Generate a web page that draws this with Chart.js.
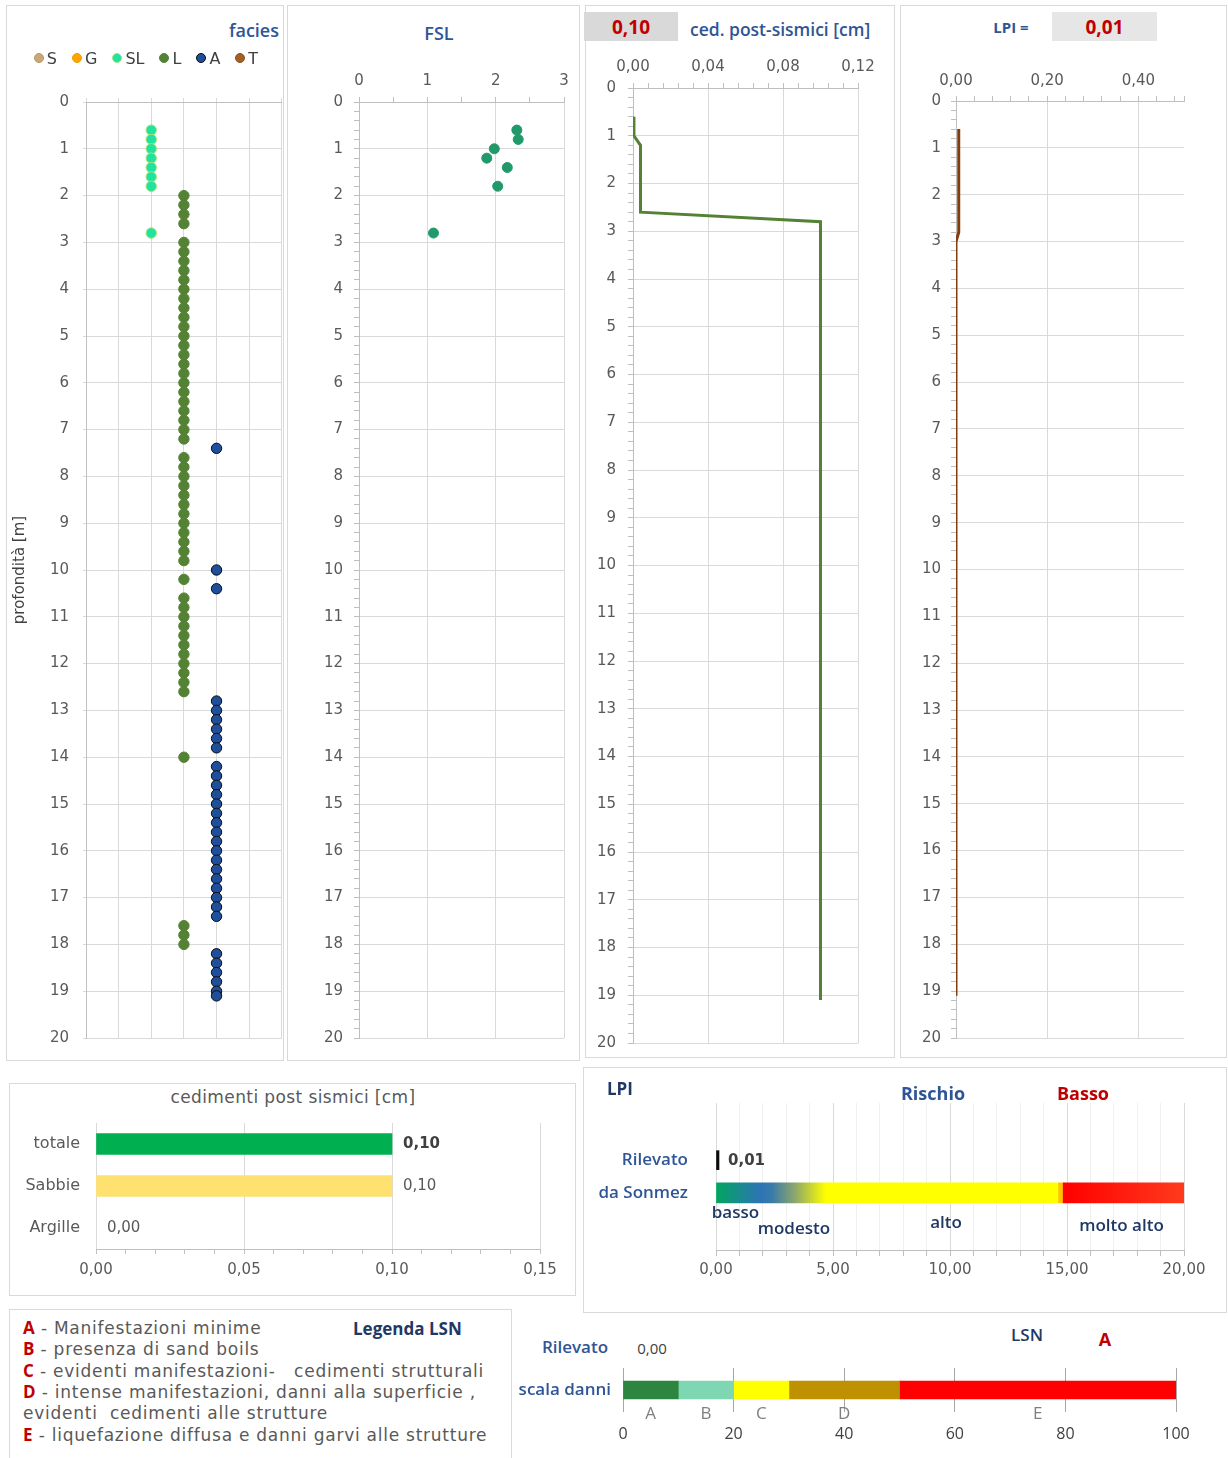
<!DOCTYPE html>
<html>
<head>
<meta charset="utf-8">
<script src="https://cdn.jsdelivr.net/npm/chart.js@4.4.1/dist/chart.umd.min.js"></script>
<style>
body { margin: 0; background: #fff; }
#page { position: relative; width: 1228px; height: 1458px; overflow: hidden; font-family: 'DejaVu Sans', sans-serif; }
.box { position: absolute; border: 1.5px solid #D9D9D9; box-sizing: border-box; }
canvas { position: absolute; }
.t { position: absolute; white-space: nowrap; line-height: 1; }
.hd { font-family: 'Open Sans', sans-serif; font-weight: 600; color: #2F5597; }
.val { position: absolute; font-family: 'Open Sans', sans-serif; font-weight: 700; color: #C00000; font-size: 19px;
       display: flex; align-items: center; justify-content: center; }
#legend { position: absolute; left: 0; width: 292px; top: 49px; display: flex; justify-content: center; gap: 15px;
          font-size: 16px; color: #404040; }
#legend span.dot { display: inline-block; width: 10px; height: 10px; border-radius: 50%; margin-right: 3px; vertical-align: 1px; box-sizing: border-box; }
.lg { position: absolute; left: 23px; font-size: 17px; letter-spacing: 0.75px; color: #595959; white-space: nowrap; transform: translateY(-50%); }
.lg b { font-family: 'Open Sans', sans-serif; font-weight: 700; color: #C00000; font-size: 17px; letter-spacing: 0; }
</style>
</head>
<body>
<div id="page">
  <div class="box" style="left:6px;top:5px;width:278px;height:1056px"></div>
  <div class="box" style="left:287px;top:5px;width:293px;height:1056px"></div>
  <div class="box" style="left:585px;top:5px;width:310px;height:1053px"></div>
  <div class="box" style="left:900px;top:5px;width:327px;height:1053px"></div>
  <div class="box" style="left:9px;top:1083px;width:567px;height:213px"></div>
  <div class="box" style="left:583px;top:1067px;width:644px;height:246px"></div>
  <div class="box" style="left:9px;top:1309px;width:503px;height:160px"></div>

  <canvas id="cFacies" width="282" height="980" style="left:6px;top:80px"></canvas>
  <canvas id="cFsl" width="292" height="1010" style="left:288px;top:50px"></canvas>
  <canvas id="cCed" width="308" height="1012" style="left:586px;top:45px"></canvas>
  <canvas id="cLpi" width="325" height="1002" style="left:901px;top:55px"></canvas>
  <canvas id="cBar" width="565" height="180" style="left:10px;top:1115px"></canvas>
  <canvas id="cRisk" width="642" height="200" style="left:584px;top:1095px"></canvas>
  <canvas id="cLsn" width="713" height="98" style="left:514px;top:1360px"></canvas>

  <div class="t hd" style="right:949px;top:21px;font-size:18px">facies</div>
  <div id="legend"></div>
  <div class="t hd" style="left:439px;top:24px;font-size:18px;transform:translateX(-50%)">FSL</div>
  <div class="val" id="cedBox" style="left:584px;top:12px;width:94px;height:29px;background:#D9D9D9"></div>
  <div class="t hd" style="left:690px;top:21px;font-size:17.5px">ced. post-sismici [cm]</div>
  <div class="t" style="left:1011px;top:20px;transform:translateX(-50%);font-family:'Open Sans',sans-serif;font-weight:700;font-size:15px;color:#2F5597">LPI =</div>
  <div class="val" id="lpiBox" style="left:1052px;top:12px;width:105px;height:29px;background:#E7E6E6"></div>

  <div class="t" style="left:293px;top:1089px;transform:translateX(-50%);font-size:17px;letter-spacing:0.4px;color:#595959">cedimenti post sismici [cm]</div>
  <div class="t" style="left:607px;top:1080px;font-family:'Open Sans',sans-serif;font-weight:700;font-size:17px;color:#1F3864">LPI</div>
  <div class="t" style="left:933px;top:1084px;transform:translateX(-50%);font-family:'Open Sans',sans-serif;font-weight:700;font-size:18px;color:#2F5597">Rischio</div>
  <div class="t" id="riskTxt" style="left:1083px;top:1084px;transform:translateX(-50%);font-family:'Open Sans',sans-serif;font-weight:700;font-size:18px;color:#C00000"></div>

  <div class="lg" style="top:1327px"><b>A</b> - Manifestazioni minime</div>
  <div class="lg" style="top:1348px"><b>B</b> - presenza di sand boils</div>
  <div class="lg" style="top:1370px"><b>C</b> - evidenti manifestazioni-&nbsp;&nbsp; cedimenti strutturali</div>
  <div class="lg" style="top:1391px"><b>D</b> - intense manifestazioni, danni alla superficie ,</div>
  <div class="lg" style="top:1413px">evidenti&nbsp; cedimenti alle strutture</div>
  <div class="lg" style="top:1434px"><b>E</b> - liquefazione diffusa e danni garvi alle strutture</div>
  <div class="t" style="left:353px;top:1320px;font-family:'Open Sans',sans-serif;font-weight:700;font-size:17px;color:#1F3864">Legenda LSN</div>

  <div class="t hd" style="left:575px;top:1338px;transform:translateX(-50%);font-size:17px">Rilevato</div>
  <div class="t" id="lsnVal" style="left:652px;top:1341px;transform:translateX(-50%);font-family:'Open Sans',sans-serif;font-size:15px;color:#404040"></div>
  <div class="t" style="left:1027px;top:1326px;transform:translateX(-50%);font-family:'Open Sans',sans-serif;font-weight:600;font-size:17px;color:#1F3864">LSN</div>
  <div class="t" id="lsnClass" style="left:1105px;top:1330px;transform:translateX(-50%);font-family:'Open Sans',sans-serif;font-weight:700;font-size:18px;color:#C00000"></div>
</div>

<script>
// facies: profondita' dei campioni [m]
const faciesNames = ["S", "G", "SL", "L", "A", "T"];
const depthS = [];
const depthG = [];
const depthSL = [0.6, 0.8, 1.0, 1.2, 1.4, 1.6, 1.8, 2.8];
const depthL = [2.0, 2.2, 2.4, 2.6, 3.0, 3.2, 3.4, 3.6, 3.8, 4.0, 4.2, 4.4, 4.6, 4.8, 5.0, 5.2, 5.4, 5.6, 5.8,
    6.0, 6.2, 6.4, 6.6, 6.8, 7.0, 7.2, 7.6, 7.8, 8.0, 8.2, 8.4, 8.6, 8.8, 9.0, 9.2, 9.4, 9.6, 9.8, 10.2,
    10.6, 10.8, 11.0, 11.2, 11.4, 11.6, 11.8, 12.0, 12.2, 12.4, 12.6, 14.0, 17.6, 17.8, 18.0];
const depthA = [7.4, 10.0, 10.4, 12.8, 13.0, 13.2, 13.4, 13.6, 13.8, 14.2, 14.4, 14.6, 14.8, 15.0, 15.2,
    15.4, 15.6, 15.8, 16.0, 16.2, 16.4, 16.6, 16.8, 17.0, 17.2, 17.4, 18.2, 18.4, 18.6, 18.8, 19.0, 19.1];
const depthT = [];

// FSL
const fslDepth = [0.6, 0.8, 1.0, 1.2, 1.4, 1.8, 2.8];
const fslValues = [2.31, 2.33, 1.98, 1.87, 2.17, 2.03, 1.09];

// cedimenti post-sismici cumulati [cm]
const cedDepth = [0.6, 1.0, 1.2, 2.6, 2.8, 19.1];
const cedValues = [0.000, 0.0005, 0.004, 0.004, 0.100, 0.100];

// LPI cumulato
const lpiDepth = [0.6, 2.8, 3.0, 19.1];
const lpiValues = [0.006, 0.006, 0.000, 0.000];

// riepilogo cedimenti
const cedCategories = ["totale", "Sabbie", "Argille"];
const cedTotals = [0.10, 0.10, 0.00];

// LPI rilevato e classi Sonmez
const lpiRilevato = 0.01;
const sonmezBounds = [0, 2, 5, 15, 20];
const sonmezNames = ["basso", "modesto", "alto", "molto alto"];
const rischio = "Basso";

// LSN
const lsnRilevato = 0.00;
const lsnClasses = ["A", "B", "C", "D", "E"];
const lsnWidths = [10, 10, 10, 20, 50];
const lsnClasse = "A";

const GRID = "#D9D9D9";
const AXIS = "#BFBFBF";
const NONE = "rgba(0,0,0,0)";

Chart.defaults.font.family = "'DejaVu Sans', sans-serif";
Chart.defaults.font.size = 15;
Chart.defaults.color = "#595959";
Chart.defaults.animation = false;
Chart.defaults.responsive = false;
Chart.defaults.plugins.legend.display = false;
Chart.defaults.plugins.tooltip.enabled = false;

function near(v, step) {
    const q = v / step;
    return Math.abs(q - Math.round(q)) < 1e-6;
}

function comma(v, d) {
    return v.toFixed(d).replace(".", ",");
}

function stepTicks(min, max, step) {
    const t = [];
    for (let i = 0; min + i * step <= max + 1e-9; i++) t.push({ value: +(min + i * step).toFixed(6) });
    if (t[t.length - 1].value < max - 1e-9) t.push({ value: max });
    return t;
}

// fixed axis size, so that the plot area lands where it is in the picture
function fit(prop, size) {
    return s => {
        s[prop] = size;
        s.paddingLeft = s.paddingRight = s.paddingTop = s.paddingBottom = 0;
    };
}

function depthScale(width, pad, minor) {
    return {
        type: "linear", position: "left", min: 0, max: 20, reverse: true,
        afterFit: fit("width", width),
        afterBuildTicks: s => { s.ticks = stepTicks(0, 20, minor ? 0.2 : 1); },
        ticks: { autoSkip: false, padding: pad, callback: v => near(v, 1) ? String(Math.round(v)) : "" },
        grid: {
            color: c => c.tick && near(c.tick.value, 1) ? GRID : NONE,
            tickColor: minor ? AXIS : GRID,
            tickLength: minor ? 5 : 3
        },
        border: { color: AXIS }
    };
}

function topScale(max, step, major, dec, height, pad) {
    return {
        type: "linear", position: "top", min: 0, max: max,
        afterFit: fit("height", height),
        afterBuildTicks: s => { s.ticks = stepTicks(0, max, step); },
        ticks: { autoSkip: false, maxRotation: 0, padding: pad, callback: v => near(v, major) ? comma(v, dec) : "" },
        grid: {
            color: c => c.tick && near(c.tick.value, major) ? GRID : NONE,
            tickColor: AXIS,
            tickLength: 5
        },
        border: { color: AXIS }
    };
}

// header values
document.getElementById("cedBox").textContent = comma(cedTotals[0], 2);
document.getElementById("lpiBox").textContent = comma(lpiRilevato, 2);
document.getElementById("riskTxt").textContent = rischio;
document.getElementById("lsnVal").textContent = comma(lsnRilevato, 2);
document.getElementById("lsnClass").textContent = lsnClasse;

// facies
const faciesDepths = [depthS, depthG, depthSL, depthL, depthA, depthT];
const faciesFill = ["#C9A77C", "#FFA500", "#1FE3A0", "#548235", "#1F4E9B", "#A0602A"];
const faciesLine = ["#B8955F", "#F29A00", "#A5E37A", "#548235", "#0D0D0D", "#8C5020"];

const legend = document.getElementById("legend");
faciesNames.forEach((n, i) => {
    const item = document.createElement("span");
    item.innerHTML = '<span class="dot" style="background:' + faciesFill[i] + ';border:1px solid ' + faciesLine[i] + '"></span>' + n;
    legend.appendChild(item);
});

new Chart(document.getElementById("cFacies"), {
    type: "scatter",
    data: {
        datasets: faciesNames.map((n, i) => ({
            label: n,
            data: faciesDepths[i].map(d => ({ x: i, y: d })),
            backgroundColor: faciesFill[i],
            borderColor: faciesLine[i],
            borderWidth: 1,
            pointRadius: 5.2
        }))
    },
    options: {
        devicePixelRatio: 1,
        layout: { padding: { left: 0, right: 2, top: 22, bottom: 22 } },
        scales: {
            x: {
                type: "linear", position: "top", min: 0, max: 6,
                afterFit: fit("height", 0),
                afterBuildTicks: s => { s.ticks = stepTicks(0, 6, 1); },
                ticks: { display: false },
                grid: { color: GRID, tickColor: GRID, tickLength: 4 },
                border: { color: AXIS }
            },
            y: Object.assign(depthScale(80, 14, false), {
                title: { display: true, text: "profondità [m]", color: "#404040", font: { size: 15 }, padding: { top: 5, bottom: 0 } }
            })
        }
    }
});

// FSL
new Chart(document.getElementById("cFsl"), {
    type: "scatter",
    data: {
        datasets: [{
            data: fslDepth.map((d, i) => ({ x: fslValues[i], y: d })),
            backgroundColor: "#21996B",
            borderColor: "#21996B",
            pointRadius: 5
        }]
    },
    options: {
        devicePixelRatio: 1,
        layout: { padding: { left: 0, right: 16, top: 0, bottom: 22 } },
        scales: {
            x: topScale(3, 0.5, 1, 0, 52, 7),
            y: depthScale(71, 11, true)
        }
    }
});

// cedimenti lungo la verticale
new Chart(document.getElementById("cCed"), {
    type: "scatter",
    data: {
        datasets: [{
            data: cedDepth.map((d, i) => ({ x: cedValues[i], y: d })),
            showLine: true,
            borderColor: "#548235",
            borderWidth: 3,
            pointRadius: 0
        }]
    },
    options: {
        devicePixelRatio: 1,
        layout: { padding: { left: 0, right: 36, top: 0, bottom: 14 } },
        scales: {
            x: topScale(0.12, 0.008, 0.04, 2, 43, 7),
            y: depthScale(47, 12, true)
        }
    }
});

// LPI lungo la verticale
new Chart(document.getElementById("cLpi"), {
    type: "scatter",
    data: {
        datasets: [{
            data: lpiDepth.map((d, i) => ({ x: lpiValues[i], y: d })),
            showLine: true,
            borderColor: "#843C0C",
            borderWidth: 3,
            pointRadius: 0
        }]
    },
    options: {
        devicePixelRatio: 1,
        layout: { padding: { left: 0, right: 42, top: 0, bottom: 19 } },
        scales: {
            x: topScale(0.5, 0.04, 0.2, 2, 46, 6),
            y: depthScale(55, 10, true)
        }
    }
});

// riepilogo cedimenti
const barLabels = {
    id: "barLabels",
    afterDatasetsDraw(chart) {
        const ctx = chart.ctx;
        const meta = chart.getDatasetMeta(0);
        ctx.save();
        ctx.textBaseline = "middle";
        ctx.textAlign = "left";
        meta.data.forEach((bar, i) => {
            ctx.font = (i === 0 ? "bold " : "") + "15px 'DejaVu Sans'";
            ctx.fillStyle = i === 0 ? "#404040" : "#595959";
            ctx.fillText(comma(cedTotals[i], 2), bar.x + 11, bar.y);
        });
        ctx.restore();
    }
};

new Chart(document.getElementById("cBar"), {
    type: "bar",
    data: {
        labels: cedCategories,
        datasets: [{ data: cedTotals, backgroundColor: ["#00B050", "#FFE170", NONE], barThickness: 21 }]
    },
    options: {
        devicePixelRatio: 1,
        indexAxis: "y",
        layout: { padding: { left: 0, right: 35, top: 8, bottom: 0 } },
        scales: {
            x: {
                min: 0, max: 0.15,
                afterFit: fit("height", 46),
                afterBuildTicks: s => { s.ticks = stepTicks(0, 0.15, 0.01); },
                ticks: { autoSkip: false, maxRotation: 0, padding: 7, callback: v => near(v, 0.05) ? comma(v, 2) : "" },
                grid: { color: c => c.tick && near(c.tick.value, 0.05) ? GRID : NONE, tickColor: AXIS, tickLength: 5 },
                border: { color: AXIS }
            },
            y: {
                afterFit: fit("width", 86),
                ticks: { padding: 16, font: { size: 16 } },
                grid: { display: false, drawTicks: false },
                border: { display: false }
            }
        }
    },
    plugins: [barLabels]
});

// LPI: rilevato e scala di Sonmez
// empty categories keep the two bars where they sit in the picture
const riskCategories = ["", "", "", "Rilevato", "", "da Sonmez", "", "", ""];
const iRil = riskCategories.indexOf("Rilevato");
const iSon = riskCategories.indexOf("da Sonmez");

const riskStops = [[0, "#00A65F"], [1.9, "#2E74B5"], [2.4, "#3A7BA8"], [3.4, "#8FA86A"], [4.7, "#FFFF00"],
    [14.6, "#FFFF00"], [14.65, "#FFC000"], [14.8, "#FFC000"], [14.85, "#FF0000"], [20, "#FF3A1C"]];

function sonmezFill(c) {
    const chart = c.chart;
    if (!chart.chartArea) return "#FFFF00";
    const x = chart.scales.x;
    const top = sonmezBounds[sonmezBounds.length - 1];
    const g = chart.ctx.createLinearGradient(x.getPixelForValue(0), 0, x.getPixelForValue(top), 0);
    riskStops.forEach(s => g.addColorStop(s[0] / top, s[1]));
    return g;
}

const riskLabels = {
    id: "riskLabels",
    afterDatasetsDraw(chart) {
        const ctx = chart.ctx;
        const x = chart.scales.x;
        const ril = chart.getDatasetMeta(0).data[iRil];
        const son = chart.getDatasetMeta(1).data[iSon];
        const drop = [20, 36, 30, 33];
        ctx.save();
        ctx.textBaseline = "middle";
        ctx.textAlign = "left";
        ctx.font = "bold 15px 'DejaVu Sans'";
        ctx.fillStyle = "#404040";
        ctx.fillText(comma(lpiRilevato, 2), ril.x + 9, ril.y + 1);
        ctx.textAlign = "center";
        ctx.font = "600 17px 'Open Sans'";
        ctx.fillStyle = "#1F3864";
        sonmezNames.forEach((n, i) => {
            const mid = (sonmezBounds[i] + sonmezBounds[i + 1]) / 2;
            ctx.fillText(n, x.getPixelForValue(mid) - 4, son.y + drop[i]);
        });
        ctx.restore();
    }
};

new Chart(document.getElementById("cRisk"), {
    type: "bar",
    data: {
        labels: riskCategories,
        datasets: [
            {
                data: riskCategories.map((c, i) => i === iRil ? lpiRilevato : null),
                backgroundColor: "#0D0D0D", minBarLength: 3, barThickness: 19, grouped: false
            },
            {
                data: riskCategories.map((c, i) => i === iSon ? [sonmezBounds[0], sonmezBounds[sonmezBounds.length - 1]] : null),
                backgroundColor: sonmezFill, barThickness: 20, grouped: false
            }
        ]
    },
    options: {
        devicePixelRatio: 1,
        indexAxis: "y",
        layout: { padding: { left: 0, right: 42, top: 8, bottom: 0 } },
        scales: {
            x: {
                min: 0, max: 20,
                afterFit: fit("height", 45),
                afterBuildTicks: s => { s.ticks = stepTicks(0, 20, 1); },
                ticks: { autoSkip: false, maxRotation: 0, padding: 5, callback: v => near(v, 5) ? comma(v, 2) : "" },
                grid: { color: c => c.tick && near(c.tick.value, 5) ? GRID : "#F0F0F0", tickColor: AXIS, tickLength: 6 },
                border: { color: AXIS }
            },
            y: {
                afterFit: fit("width", 132),
                ticks: { autoSkip: false, padding: 28, color: "#2F5597", font: { family: "'Open Sans'", weight: "600", size: 17 } },
                grid: { display: false, drawTicks: false },
                border: { display: false }
            }
        }
    },
    plugins: [riskLabels]
});

// LSN: scala danni
const lsnColors = ["#2E8540", "#7FD6B2", "#FFFF00", "#BF9000", "#FF0000"];

const lsnLetters = {
    id: "lsnLetters",
    afterDatasetsDraw(chart) {
        const ctx = chart.ctx;
        const x = chart.scales.x;
        const y = chart.getDatasetMeta(0).data[0].y;
        let start = 0;
        ctx.save();
        ctx.textBaseline = "middle";
        ctx.textAlign = "center";
        ctx.font = "17px 'Open Sans'";
        ctx.fillStyle = "#7F7F7F";
        lsnClasses.forEach((n, i) => {
            ctx.fillText(n, x.getPixelForValue(start + lsnWidths[i] / 2), y + 24);
            start += lsnWidths[i];
        });
        ctx.restore();
    }
};

new Chart(document.getElementById("cLsn"), {
    type: "bar",
    data: {
        labels: ["scala danni"],
        datasets: lsnClasses.map((n, i) => ({ label: n, data: [lsnWidths[i]], backgroundColor: lsnColors[i], barThickness: 18 }))
    },
    options: {
        devicePixelRatio: 1,
        indexAxis: "y",
        layout: { padding: { left: 0, right: 51, top: 8, bottom: 0 } },
        scales: {
            x: {
                stacked: true, min: 0, max: 100,
                afterFit: fit("height", 46),
                afterBuildTicks: s => { s.ticks = stepTicks(0, 100, 20); },
                ticks: { autoSkip: false, maxRotation: 0, padding: 13, color: "#404040", font: { family: "'Open Sans'", size: 16 } },
                grid: { color: "#A6A6A6", drawTicks: false },
                border: { display: false }
            },
            y: {
                stacked: true,
                afterFit: fit("width", 109),
                ticks: { padding: 12, color: "#2F5597", font: { family: "'Open Sans'", weight: "600", size: 17 } },
                grid: { display: false, drawTicks: false },
                border: { display: false }
            }
        }
    },
    plugins: [lsnLetters]
});
</script>
</body>
</html>
